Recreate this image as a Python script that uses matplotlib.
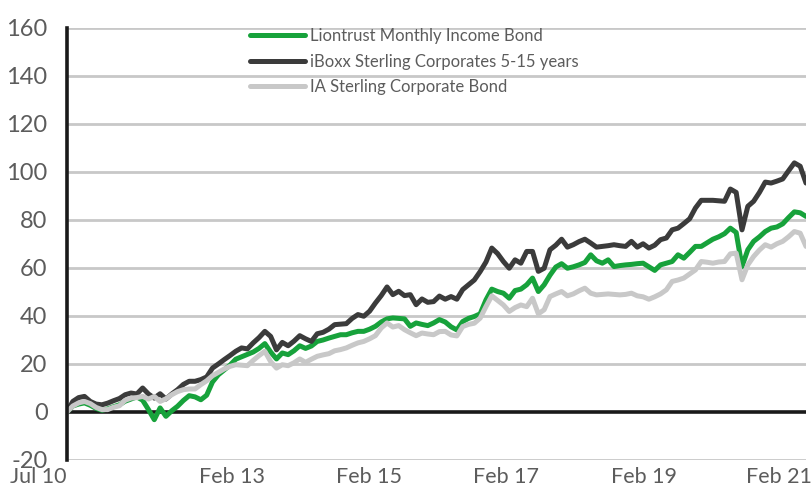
import matplotlib
matplotlib.use('Agg')
import matplotlib.pyplot as plt

# Cumulative performance (%), monthly from Jul 2010 to Feb 2021
liontrust = [0, 2.5, 3.3, 3.8, 2.8, 1.5, 0.7, 1.3, 2.2, 3.0,
             4.5, 5.4, 6.3, 4.9, 1.0, -3.2, 1.7, -1.8, 0.5, 2.4,
             4.8, 6.8, 6.3, 5.1, 7.0, 12.5, 15.5, 17.5, 19.5, 22.0,
             23.0, 24.0, 25.0, 26.5, 28.5, 25.0, 22.1, 24.6, 23.9, 25.5,
             27.6, 26.5, 27.5, 29.4, 30.0, 30.8, 31.5, 32.2, 32.2, 33.0,
             33.6, 33.6, 34.5, 35.7, 37.5, 38.8, 39.2, 39.0, 38.8, 35.7,
             37.1, 36.5, 36.0, 37.1, 38.5, 37.5, 35.5, 34.2, 37.7, 39.0,
             39.8, 40.9, 46.7, 51.2, 50.2, 49.5, 47.4, 50.6, 51.2, 53.0,
             55.8, 50.2, 53.0, 57.0, 60.4, 61.8, 59.9, 60.5, 61.3, 62.3,
             65.5, 63.0, 62.0, 63.4, 60.6, 61.0, 61.3, 61.5, 61.8, 62.0,
             60.5, 59.0, 61.3, 62.0, 62.7, 65.5, 64.1, 66.5, 69.0, 69.0,
             70.5, 72.0, 73.0, 74.3, 76.6, 74.8, 60.6, 67.6, 71.1, 73.0,
             75.2, 76.6, 77.1, 78.4, 81.0, 83.4, 83.0, 81.5]

iboxx = [0, 4.4, 6.0, 6.5, 4.4, 3.3, 3.0, 3.7, 4.7, 5.6,
         7.2, 7.9, 7.5, 10.0, 7.5, 5.8, 7.6, 5.4, 7.5, 9.3,
         11.5, 12.8, 12.8, 13.5, 14.6, 18.3, 20.0, 21.8, 23.5, 25.3,
         26.7, 26.3, 28.8, 31.0, 33.6, 31.5, 25.9, 29.0, 27.6, 29.5,
         31.8, 30.5, 29.4, 32.6, 33.2, 34.5, 36.4, 36.6, 36.8, 39.0,
         40.6, 39.9, 42.0, 45.4, 48.5, 52.1, 48.9, 50.3, 48.5, 48.9,
         44.7, 47.1, 45.7, 46.0, 48.3, 47.0, 48.1, 47.0, 51.0, 53.0,
         55.0, 58.5, 62.5, 68.3, 66.0, 62.7, 59.9, 63.4, 62.0, 66.9,
         66.9, 58.6, 59.9, 67.6, 69.5, 72.0, 68.7, 69.7, 71.0, 72.0,
         70.4, 68.7, 69.0, 69.3, 69.7, 69.3, 69.0, 71.1, 68.7, 70.1,
         68.3, 69.5, 71.8, 72.5, 75.9, 76.6, 78.5, 80.5, 85.0, 88.2,
         88.2, 88.2, 88.0, 87.8, 92.9, 91.5, 75.9, 85.7, 87.8, 91.5,
         95.8, 95.4, 96.2, 97.1, 100.5, 103.8, 102.4, 95.4]

ia_sector = [0, 2.5, 3.8, 4.4, 3.5, 1.9, 1.0, 1.0, 2.0, 2.6,
             4.9, 5.8, 6.0, 6.5, 5.4, 6.5, 4.4, 5.5, 7.2, 8.5,
             9.3, 9.6, 9.6, 11.4, 13.0, 15.1, 16.5, 17.9, 19.0, 19.7,
             19.5, 19.3, 21.5, 23.5, 25.3, 21.0, 18.3, 19.7, 19.3, 20.5,
             22.1, 20.7, 22.0, 23.2, 23.8, 24.3, 25.5, 26.0, 26.7, 27.8,
             28.8, 29.4, 30.5, 31.8, 35.0, 37.1, 35.4, 36.0, 34.3, 33.0,
             31.8, 32.9, 32.5, 32.2, 33.5, 33.6, 32.1, 31.7, 35.6, 36.5,
             37.0, 39.1, 43.9, 48.4, 46.5, 44.6, 41.9, 43.5, 44.6, 43.9,
             47.4, 40.9, 42.6, 48.1, 49.2, 50.2, 48.4, 49.2, 50.5, 51.6,
             49.5, 48.8, 49.0, 49.2, 49.0, 48.8, 49.0, 49.5, 48.4, 48.0,
             47.0, 48.0, 49.2, 50.9, 54.4, 55.0, 55.8, 57.5, 59.2, 62.7,
             62.4, 62.0, 62.5, 62.7, 65.9, 66.2, 55.1, 61.3, 64.8, 67.5,
             69.7, 68.7, 70.1, 71.1, 73.0, 75.2, 74.5, 69.0]

series_names = ['Liontrust Monthly Income Bond',
                'iBoxx Sterling Corporates 5-15 years',
                'IA Sterling Corporate Bond']
colors = ['#17a23b', '#3b3b3b', '#c8c8c8']

x_labels = ['Jul 10', 'Feb 13', 'Feb 15', 'Feb 17', 'Feb 19', 'Feb 21']
x_label_pos = [0, 28.3, 51.9, 75.5, 99.2, 122.3]
y_ticks = list(range(-20, 161, 20))

plt.rcParams['font.family'] = ['Lato', 'DejaVu Sans']
text_color = '#5c5c5c'

fig = plt.figure(figsize=(8.12, 4.87), dpi=100)
ax = fig.add_axes([67/812, 1 - 460/487, 739/812, 432/487])

months = list(range(len(liontrust)))
data = [liontrust, iboxx, ia_sector]
for vals, name, c in zip(data, series_names, colors):
    ax.plot(months, vals, color=c, lw=3.6, label=name,
            solid_capstyle='round', solid_joinstyle='round', zorder=3)

ax.set_xlim(0, len(months) - 1)
ax.set_ylim(-20, 160)
ax.set_yticks(y_ticks)
for t in y_ticks:
    if t == 0:
        ax.axhline(t, color='#1a1a1a', lw=2.6, zorder=2)
    else:
        ax.axhline(t, color='#c8c8c8', lw=2.0, zorder=1)

for s in ['top', 'right', 'bottom']:
    ax.spines[s].set_visible(False)
ax.spines['left'].set_color('#1a1a1a')
ax.spines['left'].set_linewidth(2.6)
ax.spines['left'].set_zorder(4)

ax.tick_params(axis='y', length=0, pad=14, labelsize=17, labelcolor=text_color)
ax.set_yticklabels([str(t) for t in y_ticks])

ax.set_xticks(x_label_pos)
ax.set_xticklabels(x_labels)
ax.tick_params(axis='x', length=0, pad=5, labelsize=15.5, labelcolor=text_color)
ax.get_xticklabels()[0].set_ha('right')

leg = ax.legend(loc='upper left', bbox_to_anchor=(0.2476, 1.0), frameon=False,
                borderaxespad=0, borderpad=0, handlelength=3.3,
                handletextpad=0.3, labelspacing=0.58,
                prop={'size': 12})
for txt in leg.get_texts():
    txt.set_color(text_color)
for line in leg.get_lines():
    line.set_linewidth(3.6)
    line.set_solid_capstyle('round')

fig.savefig('out.png', dpi=100)
